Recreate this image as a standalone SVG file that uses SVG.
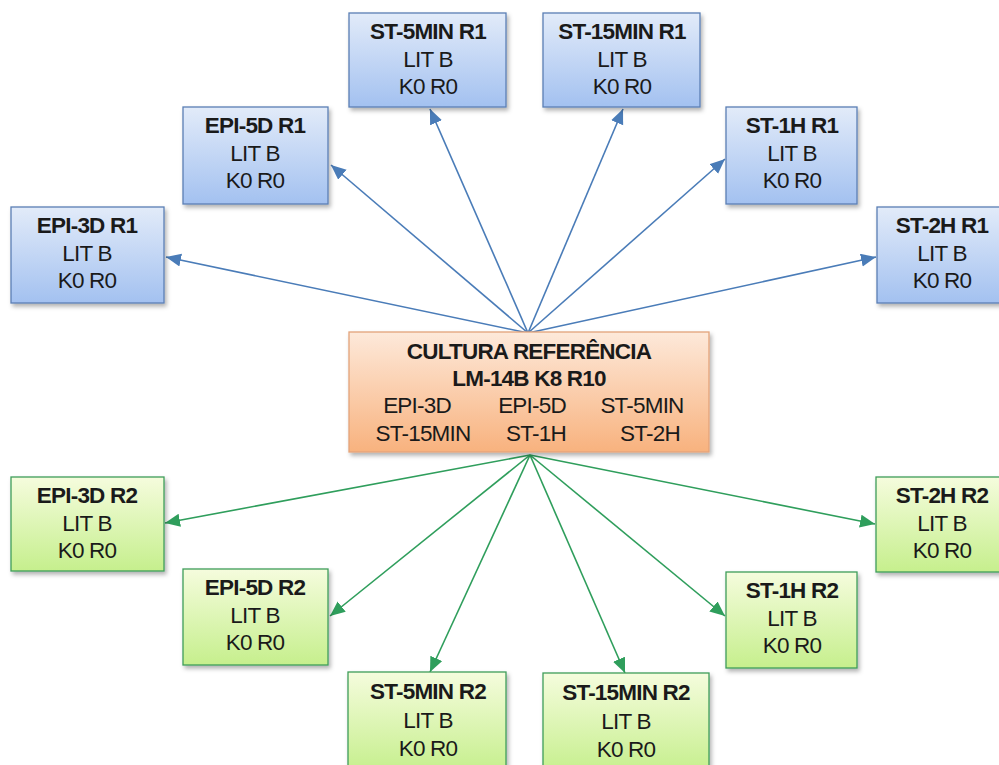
<svg xmlns="http://www.w3.org/2000/svg" width="999" height="765" viewBox="0 0 999 765">
<style>
text{font-family:"Liberation Sans",Arial,sans-serif;font-size:22.5px;letter-spacing:-0.8px;fill:#1a1a1a;text-anchor:middle}
.b{font-weight:bold}
.nb{fill:url(#gb);stroke:#5b7fb4;stroke-width:1.3;filter:url(#sh)}
.ng{fill:url(#gg);stroke:#3f9d5a;stroke-width:1.3;filter:url(#sh)}
.no{fill:url(#go);stroke:#e3a47a;stroke-width:1.3;filter:url(#sh)}
.cb{stroke:#4a7cb8;stroke-width:1.6;fill:none;marker-end:url(#ab)}
.cg{stroke:#2f9e5c;stroke-width:1.6;fill:none;marker-end:url(#ag)}
</style>
<defs>
<linearGradient id="gb" x1="0" y1="0" x2="0" y2="1"><stop offset="0" stop-color="#e2ebf9"/><stop offset="1" stop-color="#a3c1f0"/></linearGradient>
<linearGradient id="gg" x1="0" y1="0" x2="0" y2="1"><stop offset="0" stop-color="#f5fcdd"/><stop offset="1" stop-color="#c6ef8d"/></linearGradient>
<linearGradient id="go" x1="0" y1="0" x2="0" y2="1"><stop offset="0" stop-color="#fde9da"/><stop offset="1" stop-color="#f8b27e"/></linearGradient>
<filter id="sh" x="-10%" y="-10%" width="125%" height="130%"><feDropShadow dx="2" dy="3" stdDeviation="2" flood-color="#000" flood-opacity="0.3"/></filter>
<marker id="ab" markerUnits="userSpaceOnUse" markerWidth="17" markerHeight="14" refX="15" refY="6.5" orient="auto"><path d="M0,0 L15,6.5 L0,13 Z" fill="#4a7cb8"/></marker>
<marker id="ag" markerUnits="userSpaceOnUse" markerWidth="17" markerHeight="14" refX="15" refY="6.5" orient="auto"><path d="M0,0 L15,6.5 L0,13 Z" fill="#2f9e5c"/></marker>
</defs>
<rect width="999" height="765" fill="#fff"/>
<g id="connectors">
<line class="cb" x1="528" y1="333" x2="166" y2="257"/>
<line class="cb" x1="528" y1="333" x2="331" y2="165"/>
<line class="cb" x1="528" y1="333" x2="430" y2="109"/>
<line class="cb" x1="528" y1="333" x2="623" y2="109"/>
<line class="cb" x1="528" y1="333" x2="725" y2="159"/>
<line class="cb" x1="528" y1="333" x2="876" y2="257"/>
<line class="cg" x1="530" y1="455" x2="165" y2="523"/>
<line class="cg" x1="530" y1="455" x2="330" y2="616"/>
<line class="cg" x1="530" y1="455" x2="430" y2="672"/>
<line class="cg" x1="530" y1="455" x2="625" y2="673"/>
<line class="cg" x1="530" y1="455" x2="725" y2="616"/>
<line class="cg" x1="530" y1="455" x2="875" y2="524"/>
</g>
<g id="center">
<rect class="no" x="349" y="332" width="360" height="120"/>
<text class="b" x="529" y="359">CULTURA REFERÊNCIA</text>
<text class="b" x="529" y="386">LM-14B K8 R10</text>
<text x="417" y="413">EPI-3D</text>
<text x="532" y="413">EPI-5D</text>
<text x="642" y="413">ST-5MIN</text>
<text x="423" y="441">ST-15MIN</text>
<text x="536" y="441">ST-1H</text>
<text x="650" y="441">ST-2H</text>
</g>
<g id="epi3d-r1">
<rect class="nb" x="11" y="207" width="153" height="96"/>
<text class="b" x="87" y="233">EPI-3D R1</text><text x="87" y="261">LIT B</text><text x="87" y="288">K0 R0</text>
</g>
<g id="epi5d-r1">
<rect class="nb" x="183" y="107" width="145" height="97"/>
<text class="b" x="255" y="133">EPI-5D R1</text><text x="255" y="161">LIT B</text><text x="255" y="188">K0 R0</text>
</g>
<g id="st5min-r1">
<rect class="nb" x="349" y="13" width="157" height="94"/>
<text class="b" x="428" y="39">ST-5MIN R1</text><text x="428" y="67">LIT B</text><text x="428" y="94">K0 R0</text>
</g>
<g id="st15min-r1">
<rect class="nb" x="543" y="13" width="157" height="94"/>
<text class="b" x="622" y="39">ST-15MIN R1</text><text x="622" y="67">LIT B</text><text x="622" y="94">K0 R0</text>
</g>
<g id="st1h-r1">
<rect class="nb" x="726" y="107" width="131" height="97"/>
<text class="b" x="792" y="133">ST-1H R1</text><text x="792" y="161">LIT B</text><text x="792" y="188">K0 R0</text>
</g>
<g id="st2h-r1">
<rect class="nb" x="877" y="207" width="130" height="96"/>
<text class="b" x="942" y="233">ST-2H R1</text><text x="942" y="261">LIT B</text><text x="942" y="288">K0 R0</text>
</g>
<g id="epi3d-r2">
<rect class="ng" x="11" y="477" width="153" height="94"/>
<text class="b" x="87" y="503">EPI-3D R2</text><text x="87" y="531">LIT B</text><text x="87" y="558">K0 R0</text>
</g>
<g id="epi5d-r2">
<rect class="ng" x="183" y="569" width="145" height="96"/>
<text class="b" x="255" y="595">EPI-5D R2</text><text x="255" y="623">LIT B</text><text x="255" y="650">K0 R0</text>
</g>
<g id="st5min-r2">
<rect class="ng" x="348" y="672" width="158" height="100"/>
<text class="b" x="428" y="699">ST-5MIN R2</text><text x="428" y="728">LIT B</text><text x="428" y="756">K0 R0</text>
</g>
<g id="st15min-r2">
<rect class="ng" x="543" y="673" width="166" height="100"/>
<text class="b" x="626" y="700">ST-15MIN R2</text><text x="626" y="729">LIT B</text><text x="626" y="757">K0 R0</text>
</g>
<g id="st1h-r2">
<rect class="ng" x="726" y="572" width="131" height="96"/>
<text class="b" x="792" y="598">ST-1H R2</text><text x="792" y="626">LIT B</text><text x="792" y="653">K0 R0</text>
</g>
<g id="st2h-r2">
<rect class="ng" x="876" y="477" width="131" height="95"/>
<text class="b" x="942" y="503">ST-2H R2</text><text x="942" y="531">LIT B</text><text x="942" y="558">K0 R0</text>
</g>
</svg>
